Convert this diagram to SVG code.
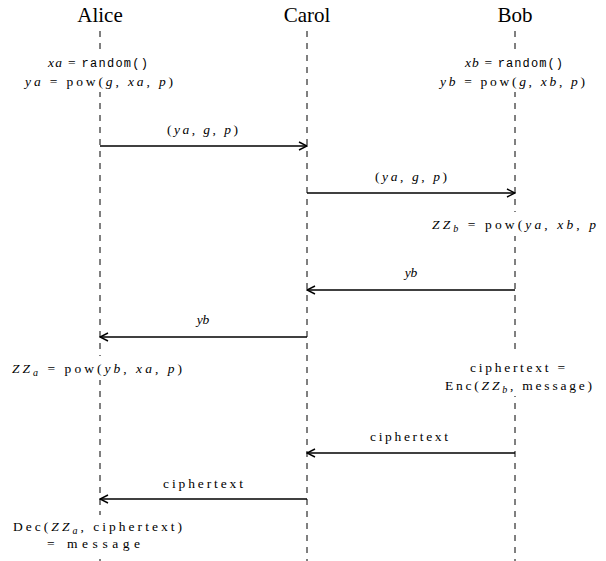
<svg xmlns="http://www.w3.org/2000/svg" width="606" height="561" viewBox="0 0 606 561">
<defs>
<marker id="arr" viewBox="0 0 10 10" refX="9" refY="5" markerWidth="10" markerHeight="10" markerUnits="userSpaceOnUse" orient="auto-start-reverse">
<path d="M1,1 L9,5 L1,9" fill="none" stroke="#000" stroke-width="1.4"/>
</marker>
<style>
.i{font-style:italic;}
.life{stroke:#000;stroke-width:1;stroke-dasharray:6,6;fill:none;}
.msg{stroke:#000;stroke-width:1.6;fill:none;marker-end:url(#arr);}
</style>
</defs>
<rect width="606" height="561" fill="#fff"/>
<g font-family="Liberation Serif, DejaVu Serif, serif" font-size="21" fill="#000">
<g id="alice">
<text x="100" y="22" text-anchor="middle">Alice</text>
<line class="life" x1="100" y1="31" x2="100" y2="561"/>
</g>
<g id="carol">
<text x="307" y="22" text-anchor="middle">Carol</text>
<line class="life" x1="307" y1="31" x2="307" y2="561"/>
</g>
<g id="bob">
<text x="515" y="22" text-anchor="middle">Bob</text>
<line class="life" x1="515" y1="31" x2="515" y2="561"/>
</g>
</g>
<g id="notes" font-family="Liberation Serif, DejaVu Serif, serif" font-size="13.5" fill="#000">
<rect x="20" y="50" width="160" height="42" fill="#fff"/>
<text x="48" y="67" textLength="100" lengthAdjust="spacing"><tspan class="i">xa</tspan> = <tspan font-family="Liberation Mono, monospace" font-size="12">random()</tspan></text>
<text x="25" y="86" textLength="148" lengthAdjust="spacing"><tspan class="i">ya</tspan> = pow(<tspan class="i">g</tspan>, <tspan class="i">xa</tspan>, <tspan class="i">p</tspan>)</text>
<rect x="436" y="50" width="156" height="42" fill="#fff"/>
<text x="465" y="67" textLength="98" lengthAdjust="spacing"><tspan class="i">xb</tspan> = <tspan font-family="Liberation Mono, monospace" font-size="12">random()</tspan></text>
<text x="440" y="86" textLength="145" lengthAdjust="spacing"><tspan class="i">yb</tspan> = pow(<tspan class="i">g</tspan>, <tspan class="i">xb</tspan>, <tspan class="i">p</tspan>)</text>
<rect x="420" y="212" width="186" height="24" fill="#fff"/>
<text x="432" y="229" textLength="164" lengthAdjust="spacing"><tspan class="i">ZZ</tspan><tspan class="i" font-size="10" dy="3">b</tspan><tspan dy="-3"> = pow(</tspan><tspan class="i">ya</tspan>, <tspan class="i">xb</tspan>, <tspan class="i">p</tspan></text>
<rect x="8" y="356" width="182" height="24" fill="#fff"/>
<text x="12" y="373" textLength="170" lengthAdjust="spacing"><tspan class="i">ZZ</tspan><tspan class="i" font-size="10" dy="3">a</tspan><tspan dy="-3"> = pow(</tspan><tspan class="i">yb</tspan>, <tspan class="i">xa</tspan>, <tspan class="i">p</tspan>)</text>
<rect x="440" y="354" width="160" height="42" fill="#fff"/>
<text x="470" y="372" textLength="95" lengthAdjust="spacing">ciphertext =</text>
<text x="445" y="390" textLength="147" lengthAdjust="spacing">Enc(<tspan class="i">ZZ</tspan><tspan class="i" font-size="10" dy="3">b</tspan><tspan dy="-3">, message)</tspan></text>
<rect x="8" y="515" width="180" height="40" fill="#fff"/>
<text x="13" y="531" textLength="169" lengthAdjust="spacing">Dec(<tspan class="i">ZZ</tspan><tspan class="i" font-size="10" dy="3">a</tspan><tspan dy="-3">, ciphertext)</tspan></text>
<text x="47" y="548" textLength="93" lengthAdjust="spacing">= message</text>
</g>
<g id="connectors" font-family="Liberation Serif, DejaVu Serif, serif" font-size="13.5" fill="#000">
<line class="msg" x1="100" y1="146" x2="307" y2="146"/>
<text x="167" y="134" textLength="71" lengthAdjust="spacing">(<tspan class="i">ya</tspan>, <tspan class="i">g</tspan>, <tspan class="i">p</tspan>)</text>
<line class="msg" x1="307" y1="193" x2="515" y2="193"/>
<text x="375" y="181" textLength="72" lengthAdjust="spacing">(<tspan class="i">ya</tspan>, <tspan class="i">g</tspan>, <tspan class="i">p</tspan>)</text>
<line class="msg" x1="515" y1="290" x2="307" y2="290"/>
<text class="i" x="411" y="277" text-anchor="middle">yb</text>
<line class="msg" x1="307" y1="337" x2="100" y2="337"/>
<text class="i" x="203" y="324" text-anchor="middle">yb</text>
<line class="msg" x1="515" y1="453" x2="307" y2="453"/>
<text x="370" y="441" textLength="78" lengthAdjust="spacing">ciphertext</text>
<line class="msg" x1="307" y1="499" x2="100" y2="499"/>
<text x="163" y="488" textLength="80" lengthAdjust="spacing">ciphertext</text>
</g>
</svg>
